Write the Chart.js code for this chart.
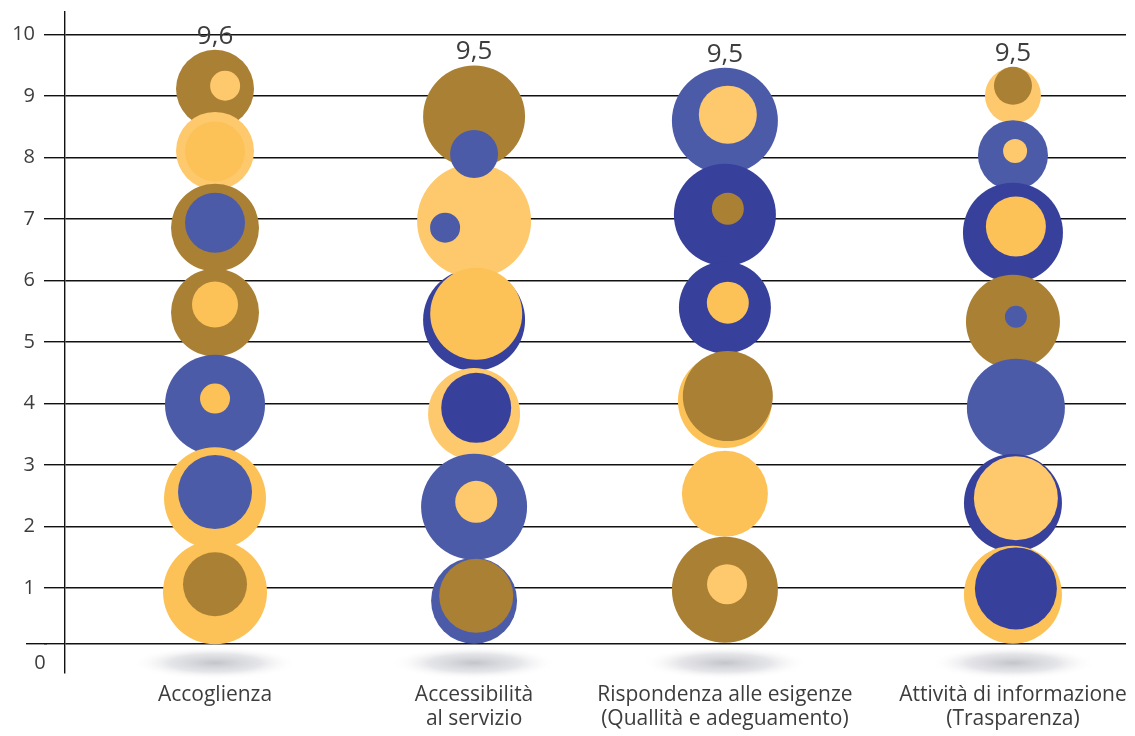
<!DOCTYPE html>
<html>
<head>
<meta charset="utf-8">
<script src="https://cdn.jsdelivr.net/npm/chart.js@4.4.1/dist/chart.umd.min.js"></script>
<style>
body { margin: 0; background: #fff; }
#wrap { width: 1135px; height: 736px; }
</style>
</head>
<body>
<div id="wrap"><canvas id="bubbleChart"></canvas></div>
<script>
// Categories, totals on top of each column and their x positions
var categories = [['Accoglienza'], ['Accessibilità', 'al servizio'], ['Rispondenza alle esigenze', '(Quallità e adeguamento)'], ['Attività di informazione', '(Trasparenza)']];
var totals = ['9,6', '9,5', '9,5', '9,5'];
var colX = [0, 0.974, 1.917, 3];
var yTickValues = [1, 2, 3, 4, 5, 6, 7, 8, 9, 10];
var baseValue = 0.09;   // the line drawn for 0
var zeroLabelValue = -0.22;

// Bubbles of each column: value, radius, tone, small x shift
var accoglienzaOuter = [
  { y: 9.12, r: 39, tone: 'brown' },
  { y: 8.11, r: 39, tone: 'light' },
  { y: 6.86, r: 44, tone: 'brown' },
  { y: 5.48, r: 44, tone: 'brown' },
  { y: 3.98, r: 50, tone: 'blue' },
  { y: 2.46, r: 51, tone: 'orange' },
  { y: 0.93, r: 52, tone: 'orange' }
];
var accoglienzaInner = [
  { y: 9.17, r: 15, tone: 'light', dx: 0.038 },
  { y: 8.10, r: 30, tone: 'orange' },
  { y: 6.94, r: 30, tone: 'blue' },
  { y: 5.61, r: 23, tone: 'orange' },
  { y: 4.08, r: 15, tone: 'orange' },
  { y: 2.56, r: 37, tone: 'blue' },
  { y: 1.06, r: 32, tone: 'brown' }
];
var accessibilitaOuter = [
  { y: 8.67, r: 51, tone: 'brown' },
  { y: 5.36, r: 51, tone: 'dark' },
  { y: 6.97, r: 57, tone: 'light' },
  { y: 3.83, r: 46, tone: 'light' },
  { y: 2.32, r: 53, tone: 'blue' },
  { y: 0.79, r: 43, tone: 'blue' }
];
var accessibilitaInner = [
  { y: 8.06, r: 24, tone: 'blue' },
  { y: 6.86, r: 15, tone: 'blue', dx: -0.109 },
  { y: 5.46, r: 46, tone: 'orange', dx: 0.008 },
  { y: 3.93, r: 35, tone: 'dark', dx: 0.008 },
  { y: 2.40, r: 21, tone: 'light', dx: 0.008 },
  { y: 0.87, r: 37, tone: 'brown', dx: 0.008 }
];
var rispondenzaOuter = [
  { y: 8.60, r: 53, tone: 'blue' },
  { y: 7.07, r: 51, tone: 'dark' },
  { y: 5.56, r: 46, tone: 'dark' },
  { y: 4.04, r: 47, tone: 'orange' },
  { y: 2.53, r: 43, tone: 'orange' },
  { y: 0.97, r: 53, tone: 'brown' }
];
var rispondenzaInner = [
  { y: 8.70, r: 29, tone: 'light', dx: 0.011 },
  { y: 7.17, r: 16, tone: 'brown', dx: 0.011 },
  { y: 5.64, r: 21, tone: 'orange', dx: 0.011 },
  { y: 4.12, r: 45, tone: 'brown', dx: 0.011 },
  { y: 1.06, r: 20, tone: 'light', dx: 0.008 }
];
var attivitaOuter = [
  { y: 9.01, r: 28, tone: 'light' },
  { y: 8.04, r: 35, tone: 'blue' },
  { y: 6.78, r: 50, tone: 'dark' },
  { y: 5.33, r: 47, tone: 'brown' },
  { y: 3.93, r: 49, tone: 'blue', dx: 0.011 },
  { y: 2.38, r: 49, tone: 'dark' },
  { y: 0.89, r: 49, tone: 'orange' }
];
var attivitaInner = [
  { y: 9.17, r: 19, tone: 'brown' },
  { y: 8.11, r: 12, tone: 'light', dx: 0.008 },
  { y: 6.88, r: 30, tone: 'orange', dx: 0.011 },
  { y: 5.41, r: 11, tone: 'blue', dx: 0.011 },
  { y: 2.46, r: 42, tone: 'light', dx: 0.011 },
  { y: 0.99, r: 41, tone: 'dark', dx: 0.011 }
];

var outerCols = [accoglienzaOuter, accessibilitaOuter, rispondenzaOuter, attivitaOuter];
var innerCols = [accoglienzaInner, accessibilitaInner, rispondenzaInner, attivitaInner];

var palette = {
  brown: '#AA8035',
  light: '#FEC96C',
  orange: '#FCC257',
  blue: '#4C5BA8',
  dark: '#37409A'
};
var textColor = '#3d3d3d';
var lineColor = '#111';
var lineWidth = 1.4;

function buildLayer(cols) {
  var pts = [], colors = [];
  cols.forEach(function (col, i) {
    col.forEach(function (b) {
      pts.push({ x: colX[i] + (b.dx || 0), y: b.y, r: b.r });
      colors.push(palette[b.tone]);
    });
  });
  return { pts: pts, colors: colors };
}

var outer = buildLayer(outerCols);
var inner = buildLayer(innerCols);

// grey shadow under each column
var shadowPlugin = {
  id: 'shadows',
  beforeDatasetsDraw: function (chart) {
    var ctx = chart.ctx, xs = chart.scales.x, ys = chart.scales.y;
    var cy = ys.getPixelForValue(zeroLabelValue);
    colX.forEach(function (v) {
      var cx = xs.getPixelForValue(v);
      ctx.save();
      ctx.translate(cx, cy);
      ctx.scale(1, 0.2);
      var g = ctx.createRadialGradient(0, 0, 0, 0, 0, 83);
      g.addColorStop(0, 'rgba(192,193,200,0.95)');
      g.addColorStop(0.55, 'rgba(212,213,218,0.6)');
      g.addColorStop(1, 'rgba(255,255,255,0)');
      ctx.fillStyle = g;
      ctx.beginPath();
      ctx.arc(0, 0, 83, 0, Math.PI * 2);
      ctx.fill();
      ctx.restore();
    });
  }
};

// totals above each column, the "0" label and the longer 0 tick
var totalsPlugin = {
  id: 'totals',
  afterDatasetsDraw: function (chart) {
    var ctx = chart.ctx, xs = chart.scales.x, ys = chart.scales.y;
    ctx.save();
    ctx.font = '26px "Open Sans", sans-serif';
    ctx.fillStyle = textColor;
    ctx.textAlign = 'center';
    ctx.textBaseline = 'alphabetic';
    outerCols.forEach(function (col, i) {
      var top = Infinity;
      col.concat(innerCols[i]).forEach(function (b) {
        top = Math.min(top, ys.getPixelForValue(b.y) - b.r);
      });
      ctx.fillText(totals[i], xs.getPixelForValue(colX[i]), top - 6);
    });

    ctx.font = '20px "Open Sans", sans-serif';
    ctx.textBaseline = 'middle';
    ctx.fillText('0', ys.right - 25, ys.getPixelForValue(zeroLabelValue));

    var dpr = chart.currentDevicePixelRatio || 1;
    var half = lineWidth / 2;
    var by = Math.round((ys.getPixelForValue(baseValue) - half) * dpr) / dpr + half;
    ctx.strokeStyle = lineColor;
    ctx.lineWidth = lineWidth;
    ctx.beginPath();
    ctx.moveTo(ys.right - 39, by);
    ctx.lineTo(ys.right - 18, by);
    ctx.stroke();
    ctx.restore();
  }
};

var ctx = document.getElementById('bubbleChart').getContext('2d');

var myBubbleChart = new Chart(ctx, {
  type: 'bubble',
  data: {
    datasets: [
      { label: 'inner', data: inner.pts, backgroundColor: inner.colors, borderWidth: 0, hoverBorderWidth: 0, hoverRadius: 0 },
      { label: 'outer', data: outer.pts, backgroundColor: outer.colors, borderWidth: 0, hoverBorderWidth: 0, hoverRadius: 0 }
    ]
  },
  options: {
    responsive: true,
    maintainAspectRatio: false,
    animation: false,
    events: [],
    layout: { autoPadding: false, padding: { top: 12, right: 9, left: 0, bottom: 0 } },
    plugins: {
      legend: { display: false },
      tooltip: { enabled: false }
    },
    scales: {
      x: {
        type: 'linear',
        min: -0.564,
        max: 3.425,
        afterBuildTicks: function (scale) {
          scale.ticks = colX.map(function (v) { return { value: v }; });
        },
        afterFit: function (scale) {
          scale.height = 63;
          scale.paddingLeft = 0;
          scale.paddingRight = 0;
        },
        grid: { display: false, drawTicks: false },
        border: { display: false },
        ticks: {
          autoSkip: false,
          maxRotation: 0,
          padding: 10,
          color: textColor,
          font: { family: '"Open Sans", sans-serif', size: 21, lineHeight: 1.15 },
          callback: function (v, i) { return categories[i]; }
        }
      },
      y: {
        min: -0.385,
        max: 10.37,
        afterBuildTicks: function (scale) {
          var t = [{ value: baseValue }];
          yTickValues.forEach(function (v) { t.push({ value: v }); });
          scale.ticks = t;
        },
        afterFit: function (scale) {
          scale.width = 65;
          scale.paddingTop = 0;
          scale.paddingBottom = 0;
        },
        grid: {
          color: lineColor,
          lineWidth: lineWidth,
          tickLength: 21
        },
        border: { display: true, color: lineColor, width: lineWidth },
        ticks: {
          padding: 9,
          color: textColor,
          font: { family: '"Open Sans", sans-serif', size: 20 },
          callback: function (v) {
            return v === baseValue ? '' : String(v);
          }
        }
      }
    }
  },
  plugins: [shadowPlugin, totalsPlugin]
});
</script>
</body>
</html>
